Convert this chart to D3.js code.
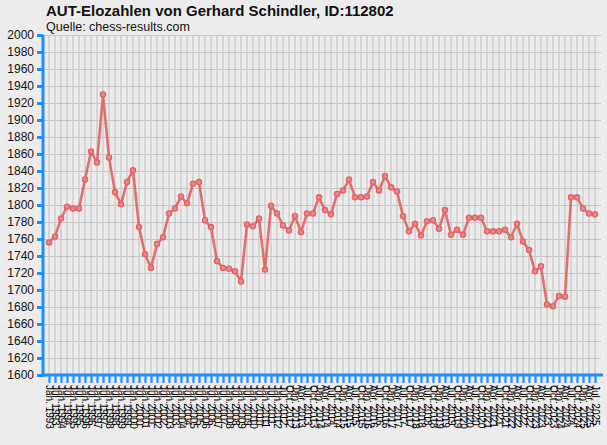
<!DOCTYPE html>
<html>
<head>
<meta charset="utf-8">
<script src="https://cdn.jsdelivr.net/npm/d3@7"></script>
<style>
  body { margin:0; background:#ececec; }
  svg { display:block; font-family:"Liberation Sans", Arial, sans-serif; }
</style>
</head>
<body>
<svg id="chart" width="607" height="445"></svg>
<script>

// Elo-Werte, eine Zahl je Liste
var elo = [1756,1763,1784,1798,1796,1796,1830,1863,1850,1930,
           1856,1815,1801,1827,1841,1774,1742,1726,1754,1762,
           1790,1796,1810,1802,1825,1827,1782,1774,1734,1726,
           1725,1722,1710,1777,1775,1784,1724,1799,1790,1776,
           1770,1787,1768,1790,1790,1809,1794,1789,1813,1817,
           1830,1809,1809,1810,1827,1817,1834,1821,1816,1787,
           1769,1778,1764,1781,1782,1772,1794,1765,1771,1765,
           1785,1785,1785,1769,1769,1769,1771,1762,1778,1757,
           1747,1722,1728,1683,1681,1693,1692,1809,1809,1796,
           1790,1789];

// Listen: halbjaehrlich bis Jul. 2012, danach vierteljaehrlich
var listen_halb = ['Jan.','Jul.'];
var listen_viertel = ['Jan.','Apr.','Jul.','Oct.'];
var yticks = [1600,1620,1640,1660,1680,1700,1720,1740,1760,1780,1800,
              1820,1840,1860,1880,1900,1920,1940,1960,1980,2000];

var labels = [];
for (var y = 1993; y <= 2012; y++) {
	listen_halb.forEach(function (m) { labels.push(m + ' ' + y); });
}
labels.push('Oct. 2012');
for (var y = 2013; y <= 2025; y++) {
	listen_viertel.forEach(function (m) {
		if (y == 2025 && m == 'Oct.') return;
		labels.push(m + ' ' + y);
	});
}

var svg = d3.select('#chart');
var blau = '#1e8fff', rot = '#e06262';

var x = d3.scaleLinear().domain([0, elo.length + 1]).range([43, 601]);
var yscale = d3.scaleLinear().domain([1600, 2000]).range([375, 35]);

/* titel */
svg.append('text').attr('x', 46).attr('y', 16)
	.attr('font-size', '15px').attr('font-weight', 'bold').attr('fill', '#111')
	.text('AUT-Elozahlen von Gerhard Schindler, ID:112802');
svg.append('text').attr('x', 46).attr('y', 31)
	.attr('font-size', '12.5px').attr('fill', '#111')
	.text('Quelle: chess-results.com');

/* gitter */
var grid = svg.append('g').attr('stroke', '#c6c6c6').attr('stroke-width', 1.2);
grid.selectAll('line.h').data(yticks.slice(1)).enter().append('line')
	.attr('x1', 43).attr('x2', 601)
	.attr('y1', function (d) { return Math.round(yscale(d)) + 0.5; })
	.attr('y2', function (d) { return Math.round(yscale(d)) + 0.5; });
grid.selectAll('line.v').data(elo).enter().append('line')
	.attr('x1', function (d, i) { return x(i + 1); })
	.attr('x2', function (d, i) { return x(i + 1); })
	.attr('y1', 35).attr('y2', 375);

/* achsen */
var yAxis = d3.axisLeft(yscale).tickValues(yticks).tickSize(6).tickPadding(3)
	.tickFormat(d3.format('d'));
var gy = svg.append('g').attr('transform', 'translate(43,0)').call(yAxis);
gy.select('.domain').attr('stroke', blau).attr('stroke-width', 3).attr('d', 'M0,35V377');
gy.selectAll('.tick line').attr('stroke', blau).attr('stroke-width', 3);
gy.selectAll('.tick text').attr('font-size', '12px').attr('fill', '#111')
	.attr('font-family', '"Liberation Sans", Arial, sans-serif');

var xAxis = d3.axisBottom(x).tickValues(d3.range(1, elo.length + 1)).tickSize(8)
	.tickFormat(function (d) { return labels[d - 1]; });
var gx = svg.append('g').attr('transform', 'translate(0,375)').call(xAxis);
gx.select('.domain').attr('stroke', blau).attr('stroke-width', 3).attr('d', 'M41,0H603');
gx.selectAll('.tick line').attr('stroke', blau).attr('stroke-width', 2.2);
gx.selectAll('.tick text')
	.attr('font-size', '10px').attr('fill', '#000')
	.attr('font-family', '"Liberation Sans", Arial, sans-serif')
	.attr('text-anchor', 'start')
	.attr('transform', 'rotate(90)')
	.attr('x', 10).attr('y', 0).attr('dy', '0.35em');

/* linie + punkte */
var line = d3.line()
	.x(function (d, i) { return x(i + 1); })
	.y(function (d) { return yscale(d); });
svg.append('path').datum(elo).attr('d', line)
	.attr('fill', 'none').attr('stroke', rot).attr('stroke-width', 2.6)
	.attr('stroke-opacity', 0.9).attr('stroke-linejoin', 'round');
svg.selectAll('circle.p').data(elo).enter().append('circle')
	.attr('cx', function (d, i) { return x(i + 1); })
	.attr('cy', function (d) { return yscale(d); })
	.attr('r', 2.6).attr('fill', '#e58a8a').attr('stroke', rot).attr('stroke-width', 1.3);

</script>
</body>
</html>
